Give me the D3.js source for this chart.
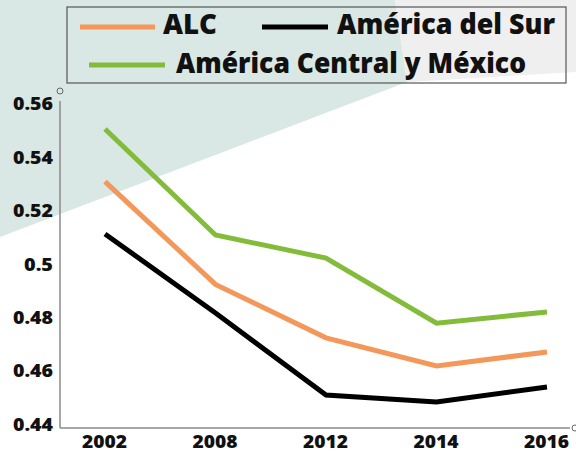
<!DOCTYPE html>
<html><head><meta charset="utf-8">
<script src="https://cdnjs.cloudflare.com/ajax/libs/d3/7.8.5/d3.min.js"></script>
<style>html,body{margin:0;padding:0;background:#fff;overflow:hidden}</style>
</head><body>
<script>
const years = ["2002", "2008", "2012", "2014", "2016"];
const alc = [0.531, 0.4925, 0.4725, 0.462, 0.4672];
const surAmerica = [0.5114, 0.4818, 0.4511, 0.4485, 0.4541];
const centralMexico = [0.5507, 0.511, 0.5024, 0.478, 0.4822];
const yTicks = [0.44, 0.46, 0.48, 0.5, 0.52, 0.54, 0.56];
const yTickLabels = ["0.44", "0.46", "0.48", "0.5", "0.52", "0.54", "0.56"];
const seriesNames = ["ALC", "América del Sur", "América Central y México"];
const seriesColors = ["#f4975a", "#000000", "#82bc3a"];

const W = 576, H = 453;
const svg = d3.select("body").append("svg").attr("width", W).attr("height", H)
  .style("font-family", "'Open Sans', sans-serif");

// background decoration
svg.append("polygon").attr("points", "0,0 395,0 407,82 0,237").attr("fill", "#d9e8e4");
svg.append("polygon").attr("points", "395,0 576,0 576,72 407,82").attr("fill", "#efefef");

const x = d3.scalePoint().domain(years).range([105, 547]);
const y = d3.scaleLinear().domain([0.44, 0.56]).range([424.6, 104.2]);

// axes lines
const axisColor = "#8a8a8a";
svg.append("line").attr("x1", 60).attr("x2", 60).attr("y1", 101).attr("y2", 428)
  .attr("stroke", axisColor).attr("stroke-width", 1.5);
svg.append("line").attr("x1", 60).attr("x2", 570).attr("y1", 428).attr("y2", 428)
  .attr("stroke", axisColor).attr("stroke-width", 1.5);
svg.append("circle").attr("cx", 60).attr("cy", 91).attr("r", 3)
  .attr("fill", "none").attr("stroke", "#666").attr("stroke-width", 1);
svg.append("circle").attr("cx", 575).attr("cy", 428).attr("r", 3)
  .attr("fill", "none").attr("stroke", "#666").attr("stroke-width", 1);

// y tick labels
const yAxis = d3.axisLeft(y).tickValues(yTicks).tickSize(0).tickPadding(0)
  .tickFormat((d, i) => yTickLabels[i]);
const gy = svg.append("g").attr("transform", "translate(53,0)").call(yAxis);
gy.select(".domain").remove();
gy.selectAll("text").attr("font-size", 18).attr("font-weight", 800)
  .attr("font-family", "'Open Sans', sans-serif").attr("fill", "#111")
  .attr("textLength", (d, i) => yTickLabels[i].length === 4 ? 40 : 29)
  .attr("lengthAdjust", "spacingAndGlyphs");

// x tick labels
const xAxis = d3.axisBottom(x).tickSize(0).tickPadding(0);
const gx = svg.append("g").attr("transform", "translate(-1,435)").call(xAxis);
gx.select(".domain").remove();
gx.selectAll("text").attr("font-size", 18).attr("font-weight", 800)
  .attr("font-family", "'Open Sans', sans-serif").attr("fill", "#111")
  .attr("textLength", 45).attr("lengthAdjust", "spacingAndGlyphs");

// lines
const line = d3.line().x((d, i) => x(years[i])).y(d => y(d));
const allSeries = [alc, surAmerica, centralMexico];
allSeries.forEach((s, k) => {
  svg.append("path").datum(s).attr("d", line).attr("fill", "none")
    .attr("stroke", seriesColors[k]).attr("stroke-width", 5).attr("stroke-linejoin", "miter");
});

// legend
svg.append("rect").attr("x", 67).attr("y", 7).attr("width", 499).attr("height", 76)
  .attr("fill", "none").attr("stroke", "#555").attr("stroke-width", 1.2);
const legendItems = [
  {x1: 80, x2: 155, ly: 27, tx: 163, ty: 34, tl: 54},
  {x1: 262, x2: 328, ly: 27, tx: 337, ty: 34, tl: 218},
  {x1: 89, x2: 165, ly: 65, tx: 176, ty: 73, tl: 350}
];
legendItems.forEach((it, k) => {
  svg.append("line").attr("x1", it.x1).attr("x2", it.x2).attr("y1", it.ly).attr("y2", it.ly)
    .attr("stroke", seriesColors[k]).attr("stroke-width", 5);
  svg.append("text").attr("x", it.tx).attr("y", it.ty).text(seriesNames[k])
    .attr("font-size", 29).attr("font-weight", 800).attr("fill", "#111")
    .attr("textLength", it.tl).attr("lengthAdjust", "spacingAndGlyphs");
});
</script>
</body></html>
